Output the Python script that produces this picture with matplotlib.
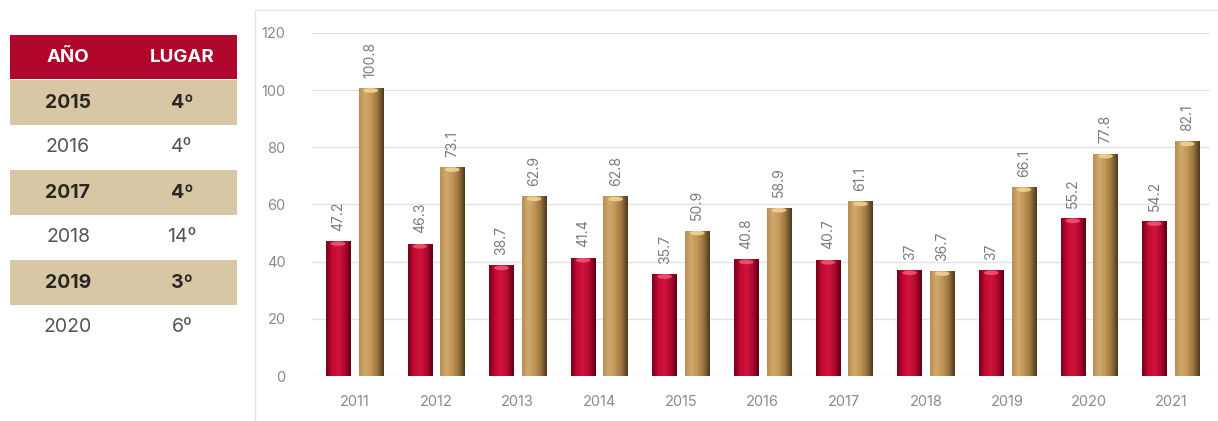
import numpy as np
import matplotlib.pyplot as plt
from matplotlib.colors import LinearSegmentedColormap
from matplotlib.lines import Line2D
from matplotlib.patches import Rectangle, Ellipse

plt.rcParams['font.family'] = ['Inter', 'DejaVu Sans']

# data
years = ['2011', '2012', '2013', '2014', '2015', '2016', '2017', '2018', '2019', '2020', '2021']
serie_roja = [47.2, 46.3, 38.7, 41.4, 35.7, 40.8, 40.7, 37, 37, 55.2, 54.2]
serie_oro = [100.8, 73.1, 62.9, 62.8, 50.9, 58.9, 61.1, 36.7, 66.1, 77.8, 82.1]
etiq_roja = ['47.2', '46.3', '38.7', '41.4', '35.7', '40.8', '40.7', '37', '37', '55.2', '54.2']
etiq_oro = ['100.8', '73.1', '62.9', '62.8', '50.9', '58.9', '61.1', '36.7', '66.1', '77.8', '82.1']
tabla_anio = ['2015', '2016', '2017', '2018', '2019', '2020']
tabla_lugar = ['4º', '4º', '4º', '14º', '3º', '6º']
yticks = [0, 20, 40, 60, 80, 100, 120]

fig = plt.figure(figsize=(12.18, 4.21), dpi=100)

# table on the left, in figure pixel coords
tab = fig.add_axes([0, 0, 1, 1])
tab.set_xlim(0, 1218)
tab.set_ylim(421, 0)
tab.axis('off')
tab.add_patch(Rectangle((10, 35), 227, 44, color='#b0062c', lw=0))
tab.text(68, 57, 'AÑO', color='white', fontsize=13.5, fontweight='bold', ha='center', va='center')
tab.text(182, 57, 'LUGAR', color='white', fontsize=13.5, fontweight='bold', ha='center', va='center')
row_h = 45
for i, (a, l) in enumerate(zip(tabla_anio, tabla_lugar)):
    y0 = 80 + i * row_h
    bold = i % 2 == 0
    if bold:
        tab.add_patch(Rectangle((10, y0), 227, row_h, color='#d8c7a5', lw=0))
    w = 'bold' if bold else 'normal'
    c = '#2a2622' if bold else '#555555'
    tab.text(68, y0 + row_h / 2, a, color=c, fontsize=14, fontweight=w, ha='center', va='center')
    tab.text(182, y0 + row_h / 2, l, color=c, fontsize=14, fontweight=w, ha='center', va='center')

# frame lines of chart block
tab.add_line(Line2D([255, 255], [10, 421], color='#e6e6e6', lw=1))
tab.add_line(Line2D([255, 1218], [10, 10], color='#e6e6e6', lw=1))

ax = fig.add_axes([312 / 1218, 1 - 376 / 421, (1210 - 312) / 1218, (376 - 33) / 421])
x = np.arange(len(years))
w = 0.3
b1 = ax.bar(x - 0.2, serie_roja, w, color='#b8082e')
b2 = ax.bar(x + 0.2, serie_oro, w, color='#b88f52')

cm_rojo = LinearSegmentedColormap.from_list('r', ['#7a001c', '#c40a32', '#d0143c', '#b20830', '#5e0014'])
cm_oro = LinearSegmentedColormap.from_list('o', ['#b88e55', '#d2aa6c', '#c09556', '#9a7440', '#4e391c'])
grad = np.linspace(0, 1, 64).reshape(1, -1)
for bars, cm, cap in [(b1, cm_rojo, '#ec5a74'), (b2, cm_oro, '#f4d698')]:
    for p in bars:
        px, pw, ph = p.get_x(), p.get_width(), p.get_height()
        im = ax.imshow(grad, cmap=cm, aspect='auto', extent=(px, px + pw, 0, ph), zorder=2)
        im.set_clip_path(p)
        ax.add_patch(Ellipse((px + pw / 2, ph - 0.9), pw * 0.6, 1.6, color=cap, lw=0, zorder=3, alpha=0.85))

for i in range(len(years)):
    ax.text(x[i] - 0.2, serie_roja[i] + 3.6, etiq_roja[i], rotation=90, ha='center', va='bottom',
            fontsize=10, color='#7a7a7a')
    ax.text(x[i] + 0.2, serie_oro[i] + 3.6, etiq_oro[i], rotation=90, ha='center', va='bottom',
            fontsize=10, color='#7a7a7a')

ax.set_xlim(-0.52, 10.48)
ax.set_ylim(0, 120)
ax.set_yticks(yticks)
ax.set_xticks(x)
ax.set_xticklabels(years)
ax.tick_params(length=0, labelsize=10.5, colors='#8a8a8a')
ax.tick_params(axis='y', pad=19)
ax.tick_params(axis='x', pad=14)
ax.grid(axis='y', color='#e2e2e2', lw=1)
ax.set_axisbelow(True)
for s in ax.spines.values():
    s.set_visible(False)

fig.savefig('out.png', dpi=100)
